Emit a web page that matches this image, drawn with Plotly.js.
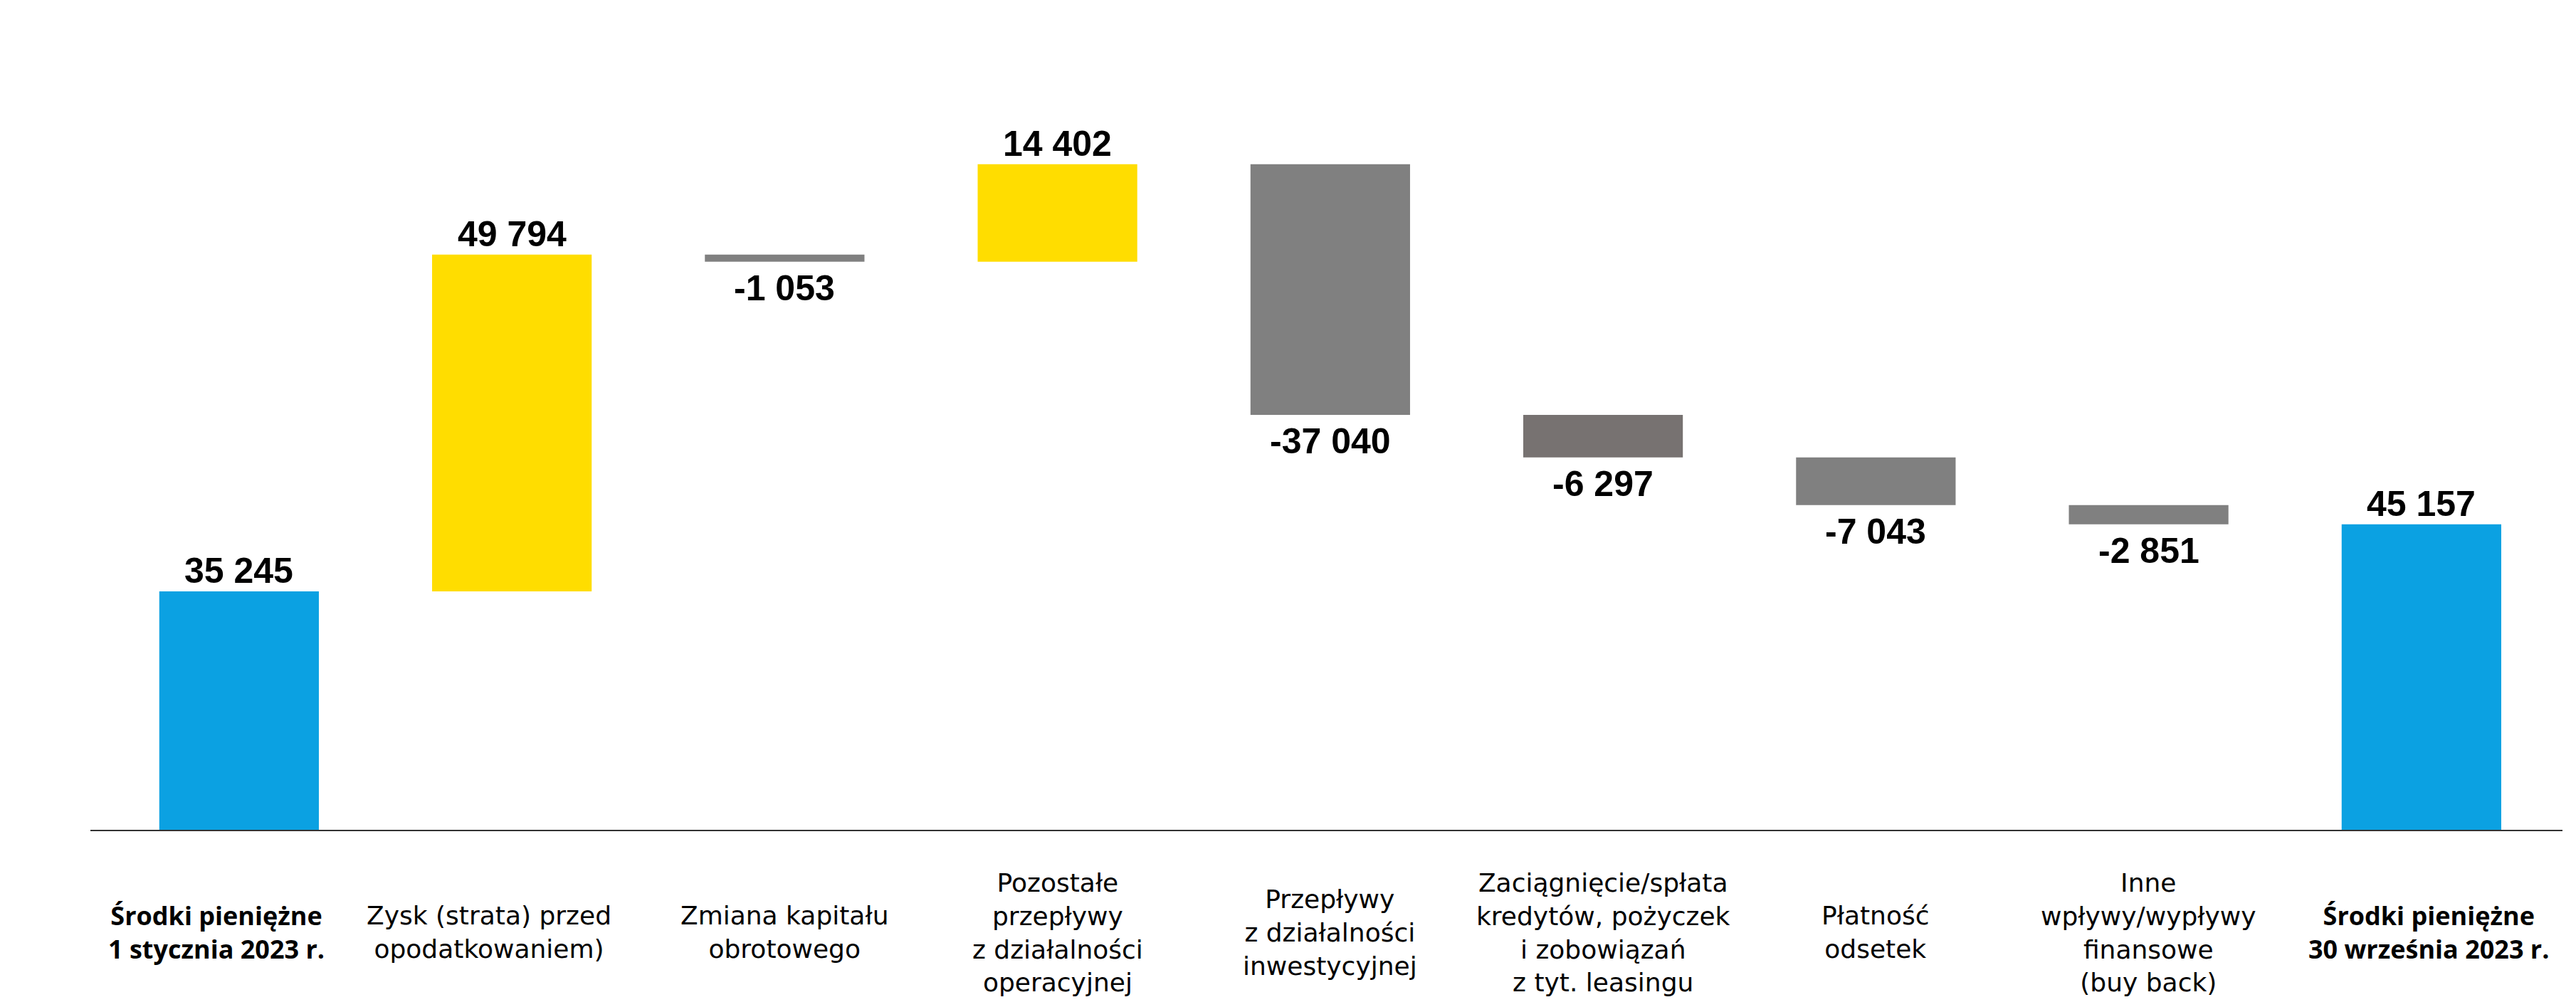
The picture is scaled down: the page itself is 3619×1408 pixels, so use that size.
<!DOCTYPE html>
<html>
<head>
<meta charset="utf-8">
<script src="https://cdn.plot.ly/plotly-3.0.1.min.js"></script>
<style>
html,body{margin:0;padding:0;background:#fff;}
#chart{width:3619px;height:1408px;}
</style>
</head>
<body>
<div id="chart"></div>
<script>
const categories = [
  "Środki pieniężne<br>1 stycznia 2023 r.",
  "Zysk (strata) przed<br>opodatkowaniem)",
  "Zmiana kapitału<br>obrotowego",
  "Pozostałe<br>przepływy<br>z działalności<br>operacyjnej",
  "Przepływy<br>z działalności<br>inwestycyjnej",
  "Zaciągnięcie/spłata<br>kredytów, pożyczek<br>i zobowiązań<br>z tyt. leasingu",
  "Płatność<br>odsetek",
  "Inne<br>wpływy/wypływy<br>finansowe<br>(buy back)",
  "Środki pieniężne<br>30 września 2023 r."
];
const values = [35245, 49794, -1053, 14402, -37040, -6297, -7043, -2851, 45157];
const measures = ["absolute","relative","relative","relative","relative","relative","relative","relative","total"];
const barColors = ["#0BA1E2","#FFDD00","#808080","#FFDD00","#808080","#777271","#808080","#808080","#0BA1E2"];

function fmt(v){
  const s = Math.abs(v).toString().replace(/\B(?=(\d{3})+(?!\d))/g, " ");
  return (v < 0 ? "-" : "") + s;
}

const xs = [], bases = [], heights = [];
let running = 0;
values.forEach((v, i) => {
  xs.push(i);
  if (measures[i] === "absolute") { bases.push(0); heights.push(v); running = v; }
  else if (measures[i] === "total") { bases.push(0); heights.push(v); running = v; }
  else { bases.push(running); heights.push(v); running += v; }
});

const annotations = [];
values.forEach((v, i) => {
  const end = bases[i] + heights[i];
  annotations.push({
    x: xs[i], y: end, xref: "x", yref: "y",
    text: "<b>" + fmt(v) + "</b>",
    showarrow: false,
    yanchor: v >= 0 ? "bottom" : "top",
    yshift: v >= 0 ? -1 : -7,
    font: {family: "Liberation Sans, Arial, sans-serif", size: 50, color: "#000"}
  });
  const bold = measures[i] !== "relative";
  annotations.push({
    x: xs[i], y: -0.1235, xref: "x", yref: "paper",
    text: bold ? "<b>" + categories[i] + "</b>" : categories[i],
    showarrow: false,
    xshift: i < 2 ? -32 : (i === 8 ? 10 : 0),
    yanchor: "middle", xanchor: "center", align: "center",
    font: bold
      ? {family: "Open Sans, sans-serif", size: 36, color: "#000"}
      : {family: "DejaVu Sans, sans-serif", size: 36, color: "#000"}
  });
});

const trace = {
  type: "bar",
  x: xs,
  y: heights,
  base: bases,
  width: 0.585,
  marker: {color: barColors, line: {width: 0}},
  hoverinfo: "none"
};

const layout = {
  width: 3619, height: 1408,
  margin: {l: 127, r: 19, t: 0, b: 242},
  paper_bgcolor: "#fff", plot_bgcolor: "#fff",
  showlegend: false,
  xaxis: {
    range: [-0.545, 8.517], showgrid: false, zeroline: false,
    showticklabels: false, ticks: "",
    showline: true, linecolor: "#333", linewidth: 2
  },
  yaxis: {
    range: [0, 122670], showgrid: false, zeroline: false,
    showticklabels: false, ticks: "", showline: false
  },
  annotations: annotations
};

Plotly.newPlot("chart", [trace], layout, {staticPlot: true, displayModeBar: false});
</script>
</body>
</html>
